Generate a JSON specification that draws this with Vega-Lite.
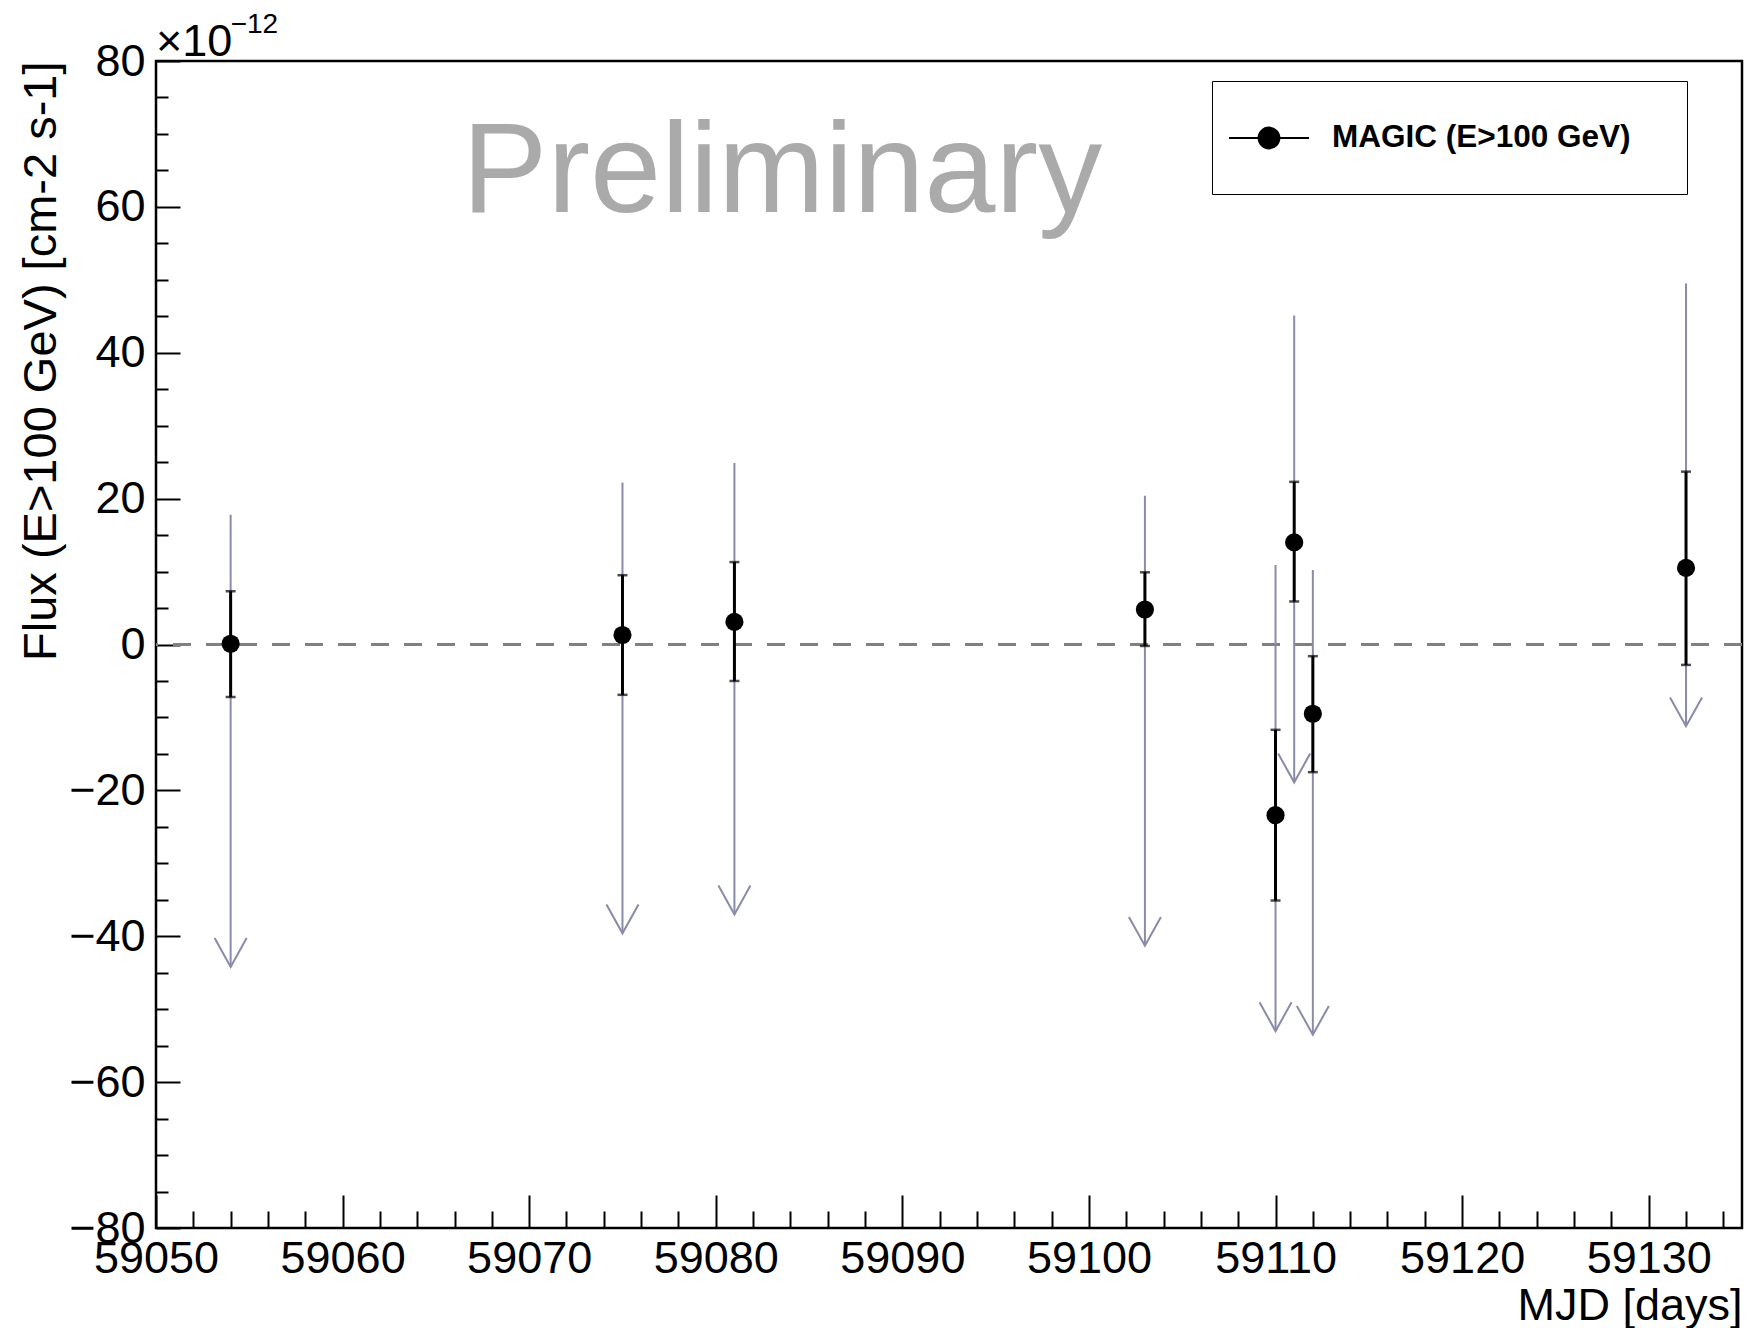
{
  "$schema": "https://vega.github.io/schema/vega-lite/v6.json",
  "width": 1586,
  "height": 1167,
  "autosize": {"type": "none"},
  "padding": {"left": 156, "top": 61, "right": 7, "bottom": 100},
  "background": "white",
  "config": {
    "view": {"stroke": "black", "strokeWidth": 2.5},
    "font": "Liberation Sans",
    "axis": {"grid": false, "domain": false, "labelFont": "Liberation Sans", "titleFont": "Liberation Sans", "labelColor": "black", "titleColor": "black", "tickColor": "black", "tickWidth": 2, "labelFlush": false, "labelOverlap": false, "labelBound": false}
  },
  "datasets": {
    "magic": [
      {"mjd": 59054, "flux": 0.1, "lo": -7.2, "hi": 7.3, "ul": 17.8, "ul_end": -44.2, "series": "MAGIC (E>100 GeV)"},
      {"mjd": 59075, "flux": 1.3, "lo": -6.9, "hi": 9.5, "ul": 22.2, "ul_end": -39.6, "series": "MAGIC (E>100 GeV)"},
      {"mjd": 59081, "flux": 3.1, "lo": -5.0, "hi": 11.3, "ul": 24.9, "ul_end": -37.0, "series": "MAGIC (E>100 GeV)"},
      {"mjd": 59103, "flux": 4.8, "lo": -0.2, "hi": 9.9, "ul": 20.4, "ul_end": -41.3, "series": "MAGIC (E>100 GeV)"},
      {"mjd": 59110, "flux": -23.4, "lo": -35.1, "hi": -11.7, "ul": 10.9, "ul_end": -53.0, "series": "MAGIC (E>100 GeV)"},
      {"mjd": 59111, "flux": 14.0, "lo": 5.9, "hi": 22.3, "ul": 45.1, "ul_end": -18.9, "series": "MAGIC (E>100 GeV)"},
      {"mjd": 59112, "flux": -9.5, "lo": -17.5, "hi": -1.6, "ul": 10.2, "ul_end": -53.5, "series": "MAGIC (E>100 GeV)"},
      {"mjd": 59132, "flux": 10.5, "lo": -2.8, "hi": 23.7, "ul": 49.5, "ul_end": -11.2, "series": "MAGIC (E>100 GeV)"}
    ],
    "notes": [
      {"mjd": 59066.4, "y": 59.3, "text": "Preliminary", "kind": "prelim"},
      {"mjd": 59050, "y": 80.7, "text": "×10", "kind": "exp"},
      {"mjd": 59054.0, "y": 83.8, "text": "−12", "kind": "sup"}
    ]
  },
  "resolve": {"axis": {"x": "independent", "y": "independent"}},
  "layer": [
    {
      "data": {"name": "magic"},
      "mark": {"type": "rule", "color": "#808080", "strokeWidth": 2, "strokeDash": [18, 15]},
      "encoding": {
        "y": {"datum": 0, "type": "quantitative", "scale": {"domain": [-80, 80], "nice": false, "zero": false}, "axis": null}
      }
    },
    {
      "data": {"name": "magic"},
      "mark": {"type": "rule", "color": "#8A8AAA", "strokeWidth": 2},
      "encoding": {
        "x": {"field": "mjd", "type": "quantitative", "scale": {"domain": [59050, 59135], "nice": false, "zero": false},
          "axis": {"orient": "bottom", "values": [59050, 59060, 59070, 59080, 59090, 59100, 59110, 59120, 59130], "format": "d", "ticks": false, "labelFontSize": 45, "labelPadding": 8, "title": "MJD [days]", "titleAnchor": "end", "titleFontSize": 45, "titleFontWeight": "normal", "titlePadding": 2}},
        "y": {"field": "ul", "type": "quantitative", "scale": {"domain": [-80, 80], "nice": false, "zero": false},
          "axis": {"orient": "left", "values": [-80, -60, -40, -20, 0, 20, 40, 60, 80], "ticks": false, "labelFontSize": 45, "labelPadding": 11, "title": "Flux (E>100 GeV) [cm-2 s-1]", "titleAnchor": "end", "titleFontSize": 47, "titleFontWeight": "normal", "titlePadding": 3}},
        "y2": {"field": "ul_end"}
      }
    },
    {
      "data": {"name": "magic"},
      "mark": {"type": "point", "shape": "M-1,-1.8L0,0L1,-1.8", "filled": false, "color": "#8A8AAA", "strokeWidth": 2, "size": 1024, "opacity": 1},
      "encoding": {
        "x": {"field": "mjd", "type": "quantitative", "axis": {"orient": "bottom", "values": [59050, 59060, 59070, 59080, 59090, 59100, 59110, 59120, 59130], "tickSize": -33, "labels": false, "title": null}},
        "y": {"field": "ul_end", "type": "quantitative", "axis": {"orient": "left", "values": [-80, -60, -40, -20, 0, 20, 40, 60, 80], "tickSize": -24, "labels": false, "title": null}}
      }
    },
    {
      "data": {"name": "magic"},
      "mark": {"type": "rule", "color": "black", "strokeWidth": 3},
      "encoding": {
        "x": {"field": "mjd", "type": "quantitative", "axis": {"orient": "bottom", "values": [59052, 59054, 59056, 59058, 59062, 59064, 59066, 59068, 59072, 59074, 59076, 59078, 59082, 59084, 59086, 59088, 59092, 59094, 59096, 59098, 59102, 59104, 59106, 59108, 59112, 59114, 59116, 59118, 59122, 59124, 59126, 59128, 59132, 59134], "tickSize": -17, "labels": false, "title": null}},
        "y": {"field": "lo", "type": "quantitative", "axis": {"orient": "left", "values": [-75, -70, -65, -55, -50, -45, -35, -30, -25, -15, -10, -5, 5, 10, 15, 25, 30, 35, 45, 50, 55, 65, 70, 75], "tickSize": -12, "labels": false, "title": null}},
        "y2": {"field": "hi"}
      }
    },
    {
      "data": {"name": "magic"},
      "mark": {"type": "tick", "orient": "horizontal", "color": "black", "size": 10, "thickness": 2.5},
      "encoding": {
        "x": {"field": "mjd", "type": "quantitative", "axis": null},
        "y": {"field": "lo", "type": "quantitative", "axis": null}
      }
    },
    {
      "data": {"name": "magic"},
      "mark": {"type": "tick", "orient": "horizontal", "color": "black", "size": 10, "thickness": 2.5},
      "encoding": {
        "x": {"field": "mjd", "type": "quantitative", "axis": null},
        "y": {"field": "hi", "type": "quantitative", "axis": null}
      }
    },
    {
      "data": {"name": "magic"},
      "mark": {"type": "point", "filled": true, "size": 330, "opacity": 1},
      "encoding": {
        "x": {"field": "mjd", "type": "quantitative", "axis": null},
        "y": {"field": "flux", "type": "quantitative", "axis": null},
        "color": {"field": "series", "type": "nominal", "scale": {"range": ["#000000"]},
          "legend": {"title": null, "orient": "none", "legendX": 1056, "legendY": 20, "padding": 16, "strokeColor": "black", "fillColor": "white", "cornerRadius": 0,
            "symbolType": "M0,-0.89M0,0.89M9.95,0M-1,0L1,0M-0.26,0A0.26,0.26,0,1,0,0.26,0A0.26,0.26,0,1,0,-0.26,0Z", "symbolSize": 6400, "symbolStrokeColor": "black", "symbolFillColor": "black", "symbolStrokeWidth": 2,
            "labelFont": "Liberation Sans", "labelFontWeight": "bold", "labelFontSize": 31.5, "labelColor": "black", "labelOffset": 22, "labelLimit": 0}}
      }
    },
    {
      "data": {"name": "notes"},
      "transform": [{"filter": "datum.kind === 'prelim'"}],
      "mark": {"type": "text", "align": "left", "baseline": "alphabetic", "fontSize": 128, "color": "#AAAAAA", "font": "Liberation Sans"},
      "encoding": {
        "x": {"field": "mjd", "type": "quantitative", "axis": null},
        "y": {"field": "y", "type": "quantitative", "axis": null},
        "text": {"field": "text"}
      }
    },
    {
      "data": {"name": "notes"},
      "transform": [{"filter": "datum.kind === 'exp'"}],
      "mark": {"type": "text", "align": "left", "baseline": "alphabetic", "fontSize": 45, "color": "black", "font": "Liberation Sans"},
      "encoding": {
        "x": {"field": "mjd", "type": "quantitative", "axis": null},
        "y": {"field": "y", "type": "quantitative", "axis": null},
        "text": {"field": "text"}
      }
    },
    {
      "data": {"name": "notes"},
      "transform": [{"filter": "datum.kind === 'sup'"}],
      "mark": {"type": "text", "align": "left", "baseline": "alphabetic", "fontSize": 28, "color": "black", "font": "Liberation Sans"},
      "encoding": {
        "x": {"field": "mjd", "type": "quantitative", "axis": null},
        "y": {"field": "y", "type": "quantitative", "axis": null},
        "text": {"field": "text"}
      }
    }
  ]
}
